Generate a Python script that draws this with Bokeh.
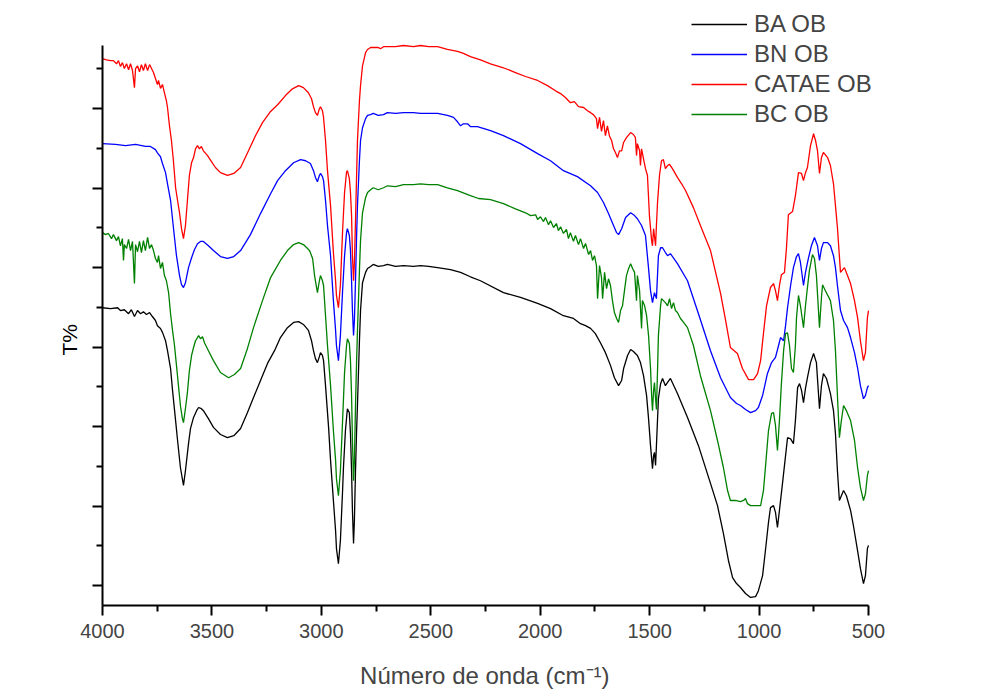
from bokeh.plotting import figure
from bokeh.models import Range1d, FixedTicker, Legend, LegendItem, Title
from bokeh.embed import file_html
from bokeh.resources import INLINE

# ---------------- data ----------------
series_names = ["BA OB", "BN OB", "CATAE OB", "BC OB"]
series_colors = ["#000000", "#0000ff", "#ff0000", "#008000"]

ba_wn = [4000, 3963, 3931, 3918, 3900, 3881, 3868, 3854, 3840, 3826, 3813, 3799, 3785, 3772, 3758, 3749,
         3735, 3726, 3712, 3703, 3689, 3680, 3666, 3657, 3644, 3630, 3621, 3607, 3598, 3584, 3570, 3561,
         3548, 3539, 3516, 3493, 3461, 3429, 3400, 3369, 3338, 3310, 3278, 3246, 3214, 3187, 3155, 3127,
         3104, 3082, 3059, 3045, 3036, 3027, 3018, 3009, 3004, 2995, 2990, 2981, 2967, 2958, 2945, 2935,
         2931, 2922, 2913, 2903, 2899, 2890, 2881, 2872, 2867, 2862, 2858, 2853, 2849, 2844, 2839, 2835,
         2826, 2821, 2812, 2798, 2789, 2775, 2763, 2740, 2716, 2698, 2661, 2625, 2579, 2547, 2510, 2469,
         2410, 2364, 2319, 2273, 2168, 2090, 2012, 1953, 1894, 1848, 1816, 1793, 1770, 1748, 1725, 1702,
         1679, 1661, 1642, 1628, 1619, 1601, 1587, 1574, 1556, 1542, 1528, 1514, 1505, 1496, 1487, 1482,
         1478, 1473, 1469, 1460, 1450, 1441, 1428, 1418, 1405, 1373, 1327, 1277, 1222, 1190, 1163, 1140,
         1121, 1103, 1085, 1062, 1039, 1016, 1003, 984, 971, 957, 948, 934, 925, 916, 907, 893, 879, 870,
         856, 843, 834, 824, 815, 806, 797, 788, 779, 765, 751, 738, 724, 715, 706, 692, 674, 660, 651,
         642, 633, 624, 614, 601, 582, 569, 550, 537, 523, 514, 505, 500]
ba_t = [69.9, 69.7, 69.9, 69.2, 69.4, 68.4, 69.4, 67.7, 69.2, 68.4, 68.9, 68.2, 68.7, 67.7, 66.7, 65.4,
        64.7, 63.7, 61.6, 59.1, 54.6, 49.1, 41.5, 36.5, 29.7, 25.2, 28.9, 35.7, 39.5, 42.3, 44.0, 44.8,
        44.5, 44.0, 42.0, 39.8, 38.0, 37.2, 37.7, 39.5, 43.5, 47.3, 51.6, 55.9, 59.1, 62.4, 64.9, 66.2,
        66.4, 65.7, 64.2, 61.6, 59.1, 57.1, 56.1, 57.6, 58.6, 57.9, 56.6, 50.3, 39.8, 31.5, 21.4, 13.8,
        9.3, 5.5, 11.3, 23.9, 29.7, 39.0, 44.5, 43.5, 38.2, 28.9, 18.9, 10.6, 16.4, 28.9, 39.0, 45.5,
        61.6, 69.2, 76.2, 78.8, 79.8, 80.3, 80.8, 80.3, 80.5, 80.8, 80.3, 80.5, 80.3, 80.5, 80.3, 80.0,
        79.5, 78.8, 77.7, 76.7, 73.7, 72.5, 71.0, 69.7, 67.9, 67.2, 65.9, 65.4, 64.7, 63.4, 61.1, 58.6,
        55.4, 52.3, 50.3, 51.6, 54.6, 57.9, 59.4, 58.9, 57.9, 56.1, 52.8, 47.8, 42.0, 35.2, 29.4, 32.7,
        33.5, 30.2, 35.2, 47.0, 50.8, 52.1, 50.3, 51.1, 52.1, 48.3, 42.3, 35.2, 25.7, 20.1, 13.1, 6.3,
        2.0, 0.5, -0.5, -2.0, -3.0, -2.8, -1.3, 2.5, 8.8, 15.9, 19.6, 20.1, 18.4, 14.6, 18.9, 25.7, 32.7, 37.2,
        36.9, 35.7, 41.5, 49.8, 50.8, 49.1, 46.0, 49.6, 52.3, 56.1, 58.4, 56.1, 44.5, 50.3, 53.3, 52.1, 48.3, 44.0, 38.2,
        28.9, 21.4, 22.6, 23.9, 22.6, 18.9, 15.1, 8.8, 4.3, 0.5, 2.5, 9.3, 10.1]

bn_wn = [4000, 3941, 3895, 3849, 3804, 3781, 3758, 3749, 3735, 3726, 3712, 3703, 3689, 3676, 3662, 3648,
         3639, 3630, 3621, 3607, 3593, 3580, 3566, 3552, 3539, 3516, 3493, 3461, 3429, 3400, 3369, 3324,
         3278, 3232, 3200, 3164, 3127, 3095, 3072, 3050, 3036, 3027, 3018, 3009, 3004, 2995, 2990, 2981,
         2972, 2958, 2945, 2935, 2931, 2922, 2913, 2903, 2894, 2885, 2881, 2872, 2867, 2862, 2858, 2853,
         2849, 2844, 2839, 2835, 2826, 2821, 2812, 2798, 2789, 2775, 2763, 2740, 2716, 2698, 2661, 2625,
         2579, 2547, 2510, 2469, 2424, 2396, 2378, 2364, 2351, 2332, 2319, 2287, 2227, 2168, 2090, 2012,
         1953, 1894, 1830, 1770, 1738, 1711, 1688, 1665, 1651, 1642, 1628, 1610, 1587, 1569, 1556, 1537,
         1519, 1505, 1496, 1487, 1478, 1469, 1460, 1450, 1441, 1428, 1418, 1405, 1373, 1327, 1277, 1222,
         1176, 1131, 1103, 1085, 1062, 1039, 1016, 1003, 984, 962, 943, 925, 911, 902, 888, 879, 870, 856,
         843, 829, 820, 811, 797, 788, 774, 761, 747, 733, 724, 715, 706, 687, 674, 660, 651, 642, 628,
         614, 596, 582, 564, 550, 537, 523, 514, 505, 500]
bn_t = [111.2, 111.0, 110.7, 111.0, 110.5, 110.5, 109.7, 108.9, 107.9, 106.2, 103.9, 101.1, 96.9, 90.1, 83.0, 78.0,
        75.7, 75.0, 76.2, 80.0, 82.5, 84.5, 86.0, 86.6, 86.6, 85.5, 84.3, 82.8, 82.3, 82.8, 84.3, 88.3,
        93.6, 98.6, 101.9, 104.4, 106.4, 107.2, 106.9, 106.2, 104.4, 102.7, 101.6, 103.2, 103.7, 102.9, 101.9, 96.9,
        90.6, 83.0, 71.7, 64.2, 60.4, 56.6, 62.9, 74.2, 83.0, 88.8, 89.8, 88.1, 84.3, 76.7, 69.2, 62.9,
        66.7, 76.7, 88.1, 95.6, 106.9, 112.0, 115.2, 117.5, 118.3, 118.5, 118.8, 118.3, 118.5, 119.0, 118.8, 119.0,
        119.0, 118.8, 118.8, 118.8, 118.3, 117.8, 116.7, 115.7, 116.2, 116.2, 115.5, 115.5, 114.5, 113.2, 111.2, 108.7,
        106.9, 104.4, 102.9, 100.6, 98.9, 96.4, 93.6, 90.6, 88.8, 88.3, 89.8, 92.6, 93.8, 93.1, 92.3, 90.6,
        88.1, 79.8, 74.2, 71.2, 73.7, 72.2, 83.0, 85.0, 85.0, 83.8, 83.0, 83.5, 81.0, 76.7, 68.4, 59.1,
        52.3, 47.3, 45.8, 45.3, 44.3, 43.5, 44.0, 44.8, 47.8, 53.3, 56.1, 57.4, 60.4, 62.4, 61.6, 65.4, 69.9, 75.5,
        80.0, 82.8, 83.5, 81.3, 75.5, 78.8, 82.5, 85.5, 87.6, 85.5, 81.8, 84.8, 86.3, 86.3, 85.5, 83.0, 80.0, 75.5, 69.2,
        66.7, 64.9, 62.4, 58.6, 54.8, 50.3, 47.0, 47.8, 49.8, 50.3]

cat_wn = [4000, 3982, 3963, 3950, 3936, 3927, 3918, 3909, 3900, 3890, 3881, 3872, 3863, 3854, 3849, 3840,
          3831, 3822, 3813, 3804, 3794, 3785, 3776, 3767, 3758, 3749, 3744, 3735, 3726, 3717, 3708, 3703,
          3694, 3685, 3676, 3666, 3657, 3648, 3639, 3630, 3621, 3612, 3603, 3593, 3584, 3575, 3566, 3557,
          3548, 3539, 3520, 3502, 3484, 3461, 3429, 3400, 3369, 3333, 3301, 3269, 3232, 3200, 3164, 3132,
          3104, 3082, 3059, 3045, 3036, 3027, 3018, 3009, 3004, 2995, 2990, 2981, 2972, 2958, 2945, 2935,
          2931, 2922, 2913, 2903, 2894, 2885, 2881, 2872, 2867, 2862, 2858, 2853, 2849, 2844, 2839, 2835,
          2826, 2821, 2812, 2798, 2789, 2775, 2763, 2740, 2730, 2716, 2698, 2661, 2625, 2579, 2547, 2510,
          2469, 2424, 2378, 2351, 2319, 2273, 2227, 2168, 2113, 2067, 2012, 1967, 1930, 1907, 1885, 1862,
          1844, 1825, 1802, 1784, 1770, 1757, 1743, 1738, 1729, 1720, 1711, 1702, 1693, 1684, 1674, 1665,
          1656, 1647, 1638, 1628, 1619, 1606, 1587, 1574, 1565, 1560, 1556, 1546, 1542, 1537, 1528, 1519,
          1510, 1501, 1491, 1487, 1482, 1473, 1469, 1464, 1455, 1446, 1437, 1428, 1418, 1409, 1396, 1373,
          1354, 1336, 1300, 1268, 1222, 1176, 1153, 1131, 1099, 1076, 1048, 1025, 1007, 993, 980, 966,
          948, 934, 925, 916, 907, 898, 884, 875, 866, 847, 834, 820, 806, 797, 788, 779, 765, 751, 742,
          733, 724, 715, 706, 687, 674, 660, 651, 642, 628, 610, 596, 582, 564, 550, 537, 523, 514, 505, 500]
cat_t = [132.6, 132.3, 132.1, 132.1, 131.3, 132.1, 130.6, 131.6, 130.1, 131.3, 129.8, 131.3, 129.6, 125.3, 130.1, 130.8,
         129.3, 131.1, 129.6, 131.3, 129.6, 131.1, 130.1, 129.1, 127.6, 126.1, 127.1, 125.1, 126.1, 124.0, 122.0, 120.3,
         115.7, 112.0, 106.9, 100.1, 96.9, 93.8, 89.8, 87.3, 90.6, 96.9, 103.2, 106.4, 107.7, 109.9, 110.7, 109.9,
         110.5, 109.4, 108.2, 106.7, 105.2, 103.9, 103.2, 103.7, 105.2, 109.4, 113.2, 116.5, 119.3, 121.0, 123.3, 125.0,
         125.8, 125.3, 124.0, 122.5, 120.5, 119.0, 118.3, 120.0, 120.5, 119.5, 117.8, 112.0, 104.4, 95.6, 83.8, 76.7,
         73.0, 69.9, 75.5, 89.3, 98.9, 104.0, 104.4, 102.4, 98.9, 93.1, 83.0, 76.7, 81.3, 91.8, 103.2, 112.0,
         122.0, 125.8, 130.8, 134.1, 134.9, 135.4, 135.4, 135.4, 135.1, 135.6, 135.6, 135.6, 135.9, 135.6, 135.9, 135.6,
         135.6, 134.9, 134.4, 133.9, 133.1, 132.3, 131.3, 130.3, 129.1, 128.1, 127.1, 125.8, 124.5, 123.8, 122.8, 121.5,
         121.8, 120.5, 120.3, 119.5, 119.0, 118.5, 117.5, 115.0, 117.8, 114.3, 117.0, 113.2, 115.7, 113.2, 112.0, 109.9,
         108.9, 107.7, 109.4, 109.4, 111.5, 112.7, 114.0, 113.5, 112.7, 108.2, 111.2, 109.4, 105.7, 109.9, 107.4, 104.9,
         103.2, 93.1, 86.8, 85.5, 89.8, 85.5, 90.6, 96.4, 103.2, 106.9, 107.2, 104.9, 105.7, 106.0, 104.9, 102.7,
         101.1, 99.4, 95.1, 90.6, 84.3, 73.5, 66.7, 59.9, 58.4, 54.6, 51.8, 51.8, 53.3, 56.6, 63.4, 70.4,
         75.0, 76.0, 74.2, 71.7, 75.5, 78.2, 78.8, 84.8, 93.3, 94.1, 98.1, 103.9, 103.7, 101.9, 103.9, 105.2, 110.7, 113.7, 112.0,
         109.4, 103.7, 107.7, 109.0, 107.7, 105.7, 101.1, 95.6, 90.1, 78.8, 80.0, 78.0, 76.0, 71.7, 67.4, 61.6, 56.6, 58.6, 67.4, 69.2]

bc_wn = [4000, 3986, 3973, 3959, 3950, 3936, 3927, 3918, 3909, 3904, 3900, 3890, 3881, 3872, 3863, 3854,
         3849, 3840, 3831, 3822, 3813, 3804, 3794, 3785, 3776, 3767, 3758, 3749, 3744, 3735, 3726, 3717,
         3708, 3698, 3689, 3680, 3671, 3662, 3653, 3644, 3635, 3630, 3621, 3612, 3603, 3593, 3584, 3575,
         3566, 3561, 3552, 3543, 3534, 3516, 3493, 3461, 3424, 3397, 3369, 3338, 3310, 3269, 3232, 3187,
         3155, 3127, 3104, 3082, 3054, 3040, 3031, 3018, 3009, 3004, 2995, 2990, 2981, 2972, 2958, 2945,
         2935, 2931, 2922, 2913, 2903, 2894, 2885, 2881, 2872, 2867, 2862, 2858, 2853, 2849, 2844, 2839,
         2835, 2826, 2821, 2812, 2798, 2789, 2775, 2763, 2740, 2716, 2698, 2661, 2625, 2579, 2547, 2510,
         2469, 2424, 2378, 2319, 2282, 2227, 2168, 2113, 2067, 2044, 2021, 2012, 1999, 1985, 1976, 1962,
         1953, 1939, 1926, 1917, 1907, 1894, 1880, 1871, 1862, 1848, 1839, 1825, 1816, 1802, 1793, 1779,
         1770, 1761, 1752, 1743, 1738, 1729, 1720, 1715, 1706, 1697, 1688, 1679, 1670, 1661, 1651, 1642,
         1633, 1624, 1615, 1606, 1596, 1587, 1578, 1569, 1560, 1556, 1546, 1537, 1533, 1523, 1514, 1505,
         1496, 1491, 1487, 1482, 1478, 1473, 1469, 1464, 1460, 1450, 1446, 1437, 1428, 1418, 1409, 1400,
         1391, 1382, 1373, 1359, 1345, 1327, 1300, 1268, 1222, 1190, 1163, 1144, 1131, 1108, 1085, 1071,
         1062, 1053, 1039, 1016, 993, 980, 971, 957, 943, 934, 925, 916, 907, 898, 888, 879, 870, 861, 852,
         843, 834, 829, 820, 811, 797, 788, 779, 770, 756, 747, 738, 724, 715, 710, 697, 674, 660, 651, 642,
         633, 624, 614, 601, 582, 564, 550, 537, 523, 514, 505, 500]
bc_t = [88.8, 88.3, 88.6, 87.3, 88.3, 86.8, 87.8, 85.5, 87.3, 81.8, 85.8, 84.8, 87.1, 84.3, 86.6, 76.0,
        85.8, 84.0, 86.6, 83.8, 86.8, 84.3, 87.6, 84.8, 85.8, 84.3, 82.3, 81.3, 83.0, 79.8, 81.3, 78.0,
        76.7, 73.7, 68.4, 64.2, 60.4, 55.4, 50.3, 45.3, 42.0, 41.0, 44.5, 48.6, 54.1, 57.9, 59.9, 61.6,
        62.4, 62.9, 62.1, 62.6, 61.1, 59.1, 56.6, 53.6, 52.3, 53.1, 54.6, 59.6, 64.9, 71.7, 77.5, 81.8,
        84.3, 85.8, 86.3, 85.8, 84.3, 82.3, 78.0, 73.7, 76.7, 78.0, 76.7, 75.5, 67.9, 60.4, 50.3, 39.0,
        31.5, 26.9, 22.6, 28.9, 41.5, 53.6, 60.4, 62.1, 60.9, 56.6, 47.8, 36.5, 26.4, 31.5, 45.3, 56.6,
        64.2, 79.3, 86.8, 93.8, 97.6, 98.9, 99.6, 100.1, 99.6, 100.1, 100.6, 100.4, 100.9, 100.9, 101.1, 100.9,
        100.9, 100.1, 99.4, 98.1, 97.4, 97.1, 96.1, 94.8, 93.8, 93.1, 93.3, 92.1, 92.8, 91.6, 92.6, 90.8,
        91.8, 90.1, 91.1, 89.3, 90.3, 88.6, 89.6, 87.3, 88.8, 86.6, 88.1, 85.8, 87.3, 84.8, 86.1, 83.3,
        84.3, 81.8, 83.0, 80.5, 72.2, 80.5, 77.5, 72.2, 78.8, 74.7, 77.2, 75.5, 71.7, 68.7, 67.2, 66.2,
        69.2, 70.4, 74.2, 78.0, 79.8, 81.0, 79.8, 78.8, 71.7, 78.0, 74.2, 64.7, 71.7, 70.4, 67.9, 62.9,
        54.6, 47.8, 44.0, 49.1, 51.1, 47.0, 44.3, 54.1, 62.9, 70.4, 72.2, 71.7, 71.2, 70.4, 72.2, 69.7,
        71.2, 69.2, 68.7, 67.2, 66.2, 64.9, 60.4, 52.8, 44.0, 36.5, 29.7, 23.9, 21.4, 21.4, 21.1, 21.4,
        21.9, 20.6, 20.1, 20.1, 20.1, 23.9, 29.7, 39.0, 43.3, 43.5, 40.3, 34.0, 41.5, 50.8, 59.1, 63.4, 63.6, 60.4, 54.6,
        53.6, 60.4, 67.4, 73.0, 70.4, 64.9, 70.4, 75.0, 79.3, 83.3, 82.3, 78.0, 64.9, 72.5, 75.7, 74.2, 71.7, 66.7, 59.1, 47.8,
        37.2, 41.5, 45.3, 44.0, 41.5, 36.5, 29.7, 24.7, 21.4, 23.1, 27.7, 28.9]

x_major = [4000, 3500, 3000, 2500, 2000, 1500, 1000, 500]
x_minor = [3750, 3250, 2750, 2250, 1750, 1250, 750]
y_major = [0, 20, 40, 60, 80, 100, 120]
y_minor = [10, 30, 50, 70, 90, 110, 130]
x_axis_span = (500, 4000)
y_axis_span = (-5.03, 135.9)

x_title = "Número de onda (cm⁻¹)"
y_title = "T%"

# ---------------- figure ----------------
FONT = "Liberation Sans"

# The frame is a little larger than the drawn axes (top and right) so that the
# legend, which sits above / right of the axes in the original, is not clipped.
p = figure(width=985, height=695, output_backend="svg", toolbar_location=None,
           x_range=Range1d(4000, 445.2), y_range=Range1d(-5.03, 145.97),
           min_border_left=102, min_border_right=105, min_border_top=5, min_border_bottom=90)
p.outline_line_color = None
p.xgrid.visible = False
p.ygrid.visible = False
p.background_fill_color = "white"
p.border_fill_color = "white"

data = [(ba_wn, ba_t), (bn_wn, bn_t), (cat_wn, cat_t), (bc_wn, bc_t)]
renderers = []
for (wn, t), color in zip(data, series_colors):
    r = p.line(wn, t, line_color=color, line_width=1.3)
    renderers.append(r)

# axes
xa = p.xaxis[0]
xa.bounds = x_axis_span
xa.ticker = FixedTicker(ticks=x_major, minor_ticks=x_minor)
xa.axis_label = x_title + "\u00a0\u00a0"
xa.axis_label_text_font = FONT
xa.axis_label_text_font_style = "normal"
xa.axis_label_text_font_size = "24px"
xa.axis_label_standoff = 21
xa.major_label_text_font = FONT
xa.major_label_text_font_size = "20px"
xa.major_label_standoff = 8
xa.axis_line_width = 2
xa.major_tick_line_width = 2
xa.minor_tick_line_width = 2
xa.major_tick_in = 0
xa.major_tick_out = 10
xa.minor_tick_in = 0
xa.minor_tick_out = 6

ya = p.yaxis[0]
ya.bounds = y_axis_span
ya.ticker = FixedTicker(ticks=y_major, minor_ticks=y_minor)
ya.major_label_overrides = {v: "" for v in y_major}
ya.major_label_standoff = 0
ya.axis_line_width = 2
ya.major_tick_line_width = 2
ya.minor_tick_line_width = 2
ya.major_tick_in = 0
ya.major_tick_out = 10
ya.minor_tick_in = 0
ya.minor_tick_out = 6

# y title placed next to the drawn part of the axis (not the enlarged frame)
p.add_layout(Title(text=y_title, align="left", offset=250, standoff=24,
                   text_font=FONT, text_font_size="21px", text_font_style="normal",
                   text_color="black"), "left")

items = [LegendItem(label=n, renderers=[r]) for n, r in zip(series_names, renderers)]
legend = Legend(items=items, location=(589, 476), orientation="vertical",
                label_text_font=FONT, label_text_font_size="24px",
                glyph_width=56, glyph_height=30, label_height=30, label_standoff=7,
                spacing=0, padding=0, margin=0,
                border_line_color=None, background_fill_alpha=0)
p.add_layout(legend, "center")

open("out.html", "w").write(file_html(p, INLINE))
